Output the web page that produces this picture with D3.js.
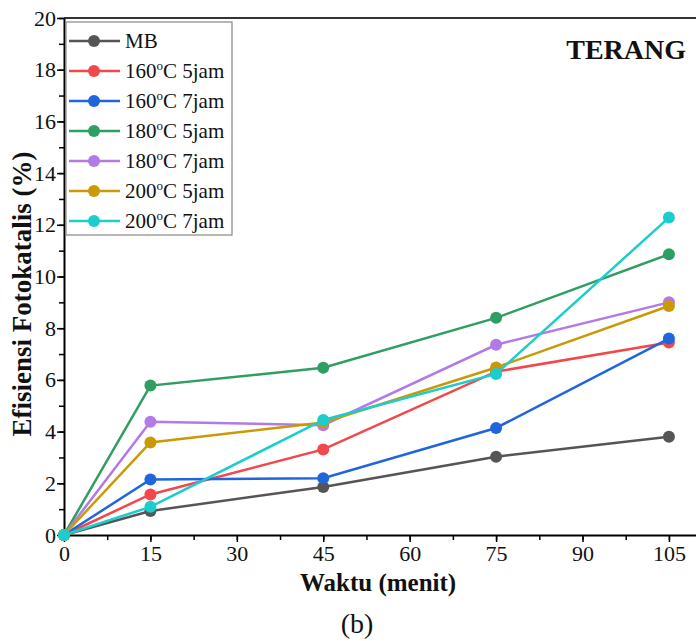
<!DOCTYPE html>
<html>
<head>
<meta charset="utf-8">
<script src="https://cdn.jsdelivr.net/npm/d3@7"></script>
<style>
  body { margin: 0; background: #fff; }
  svg { display: block; }
  svg text { font-family: "Liberation Serif", "Times New Roman", Times, serif !important; fill: #111; }
</style>
</head>
<body>
<svg id="chart" width="696" height="641"></svg>
<script>
// data
const times = [0, 15, 45, 75, 105];
const seriesNames = ["MB", "160C5", "160C7", "180C5", "180C7", "200C5", "200C7"];
const seriesLabels = [["MB", "", ""], ["160", "o", "C 5jam"], ["160", "o", "C 7jam"], ["180", "o", "C 5jam"],
                      ["180", "o", "C 7jam"], ["200", "o", "C 5jam"], ["200", "o", "C 7jam"]];
const mb      = [0, 0.93, 1.86, 3.03, 3.80];
const t160j5  = [0, 1.57, 3.31, 6.32, 7.45];
const t160j7  = [0, 2.15, 2.20, 4.14, 7.60];
const t180j5  = [0, 5.78, 6.47, 8.40, 10.86];
const t180j7  = [0, 4.38, 4.25, 7.36, 9.00];
const t200j5  = [0, 3.58, 4.35, 6.48, 8.86];
const t200j7  = [0, 1.09, 4.45, 6.23, 12.28];
const seriesValues = [mb, t160j5, t160j7, t180j5, t180j7, t200j5, t200j7];
const colors = ["#555555", "#f2474b", "#1f66dc", "#2f9e62", "#b27ae6", "#c99a06", "#1ccdcd"];
const xTicks = [0, 15, 30, 45, 60, 75, 90, 105];
const yTicks = [0, 2, 4, 6, 8, 10, 12, 14, 16, 18, 20];

const svg = d3.select("#chart");
const plotLeft = 64, plotRight = 696, plotTop = 18, plotBottom = 535;

// x axis runs past the right edge of the picture (cropped figure)
const x = d3.scaleLinear().domain([0, 109.7]).range([plotLeft, plotRight]);
const y = d3.scaleLinear().domain([0, 20]).range([plotBottom, plotTop]);

// top frame line
svg.append("line")
    .attr("x1", plotLeft).attr("x2", plotRight)
    .attr("y1", y(20)).attr("y2", y(20))
    .attr("stroke", "#333").attr("stroke-width", 2);

// minor ticks
svg.append("g")
    .attr("transform", `translate(0,${plotBottom})`)
    .call(d3.axisBottom(x).tickValues(d3.range(0, 109, 7.5)).tickSize(5).tickFormat("").tickSizeOuter(0))
    .call(g => g.select(".domain").remove())
    .call(g => g.selectAll("line").attr("stroke-width", 1.5));
svg.append("g")
    .attr("transform", `translate(${plotLeft},0)`)
    .call(d3.axisLeft(y).tickValues(d3.range(0, 21, 1)).tickSize(5).tickFormat("").tickSizeOuter(0))
    .call(g => g.select(".domain").remove())
    .call(g => g.selectAll("line").attr("stroke-width", 1.5));

// major axes
svg.append("g")
    .attr("transform", `translate(0,${plotBottom})`)
    .call(d3.axisBottom(x).tickValues(xTicks).tickSize(7).tickSizeOuter(0).tickPadding(3))
    .call(g => g.select(".domain").attr("stroke-width", 2))
    .call(g => g.selectAll("line").attr("stroke-width", 1.5))
    .call(g => g.selectAll("text").style("font-size", "22px"));

svg.append("g")
    .attr("transform", `translate(${plotLeft},0)`)
    .call(d3.axisLeft(y).tickValues(yTicks).tickSize(7).tickSizeOuter(0).tickPadding(1))
    .call(g => g.select(".domain").attr("stroke-width", 2))
    .call(g => g.selectAll("line").attr("stroke-width", 1.5))
    .call(g => g.selectAll("text").style("font-size", "22px"));

// lines and markers
const line = d3.line().x((d, i) => x(times[i])).y(d => y(d));
seriesValues.forEach((vals, s) => {
  const g = svg.append("g").attr("class", "series-" + seriesNames[s]);
  g.append("path")
    .datum(vals)
    .attr("d", line)
    .attr("fill", "none")
    .attr("stroke", colors[s])
    .attr("stroke-width", 2.5);
  g.selectAll("circle")
    .data(vals)
    .enter()
    .append("circle")
    .attr("cx", (d, i) => x(times[i]))
    .attr("cy", d => y(d))
    .attr("r", 6)
    .attr("fill", colors[s]);
});

// legend
const legend = svg.append("g").attr("transform", "translate(66,22)");
legend.append("rect")
    .attr("width", 166).attr("height", 213)
    .attr("fill", "#fff").attr("stroke", "#888").attr("stroke-width", 1.2);
seriesNames.forEach((name, i) => {
  const ry = 19 + i * 30;
  legend.append("line")
      .attr("x1", 3).attr("x2", 54).attr("y1", ry).attr("y2", ry)
      .attr("stroke", colors[i]).attr("stroke-width", 2.5);
  legend.append("circle")
      .attr("cx", 28).attr("cy", ry).attr("r", 6).attr("fill", colors[i]);
  const t = legend.append("text")
      .attr("x", 59).attr("y", ry + 7)
      .style("font-size", "21px");
  const parts = seriesLabels[i];
  t.append("tspan").text(parts[0]);
  if (parts[1]) {
    t.append("tspan").style("font-size", "13px").attr("dy", -8).text(parts[1]);
    t.append("tspan").attr("dy", 8).text(parts[2]);
  }
});

// annotation
svg.append("text")
    .attr("x", 686).attr("y", 59)
    .attr("text-anchor", "end")
    .style("font-size", "28px").style("font-weight", "bold")
    .text("TERANG");

// axis titles
svg.append("text")
    .attr("x", 378).attr("y", 591)
    .attr("text-anchor", "middle")
    .style("font-size", "25px").style("font-weight", "bold")
    .text("Waktu (menit)");

svg.append("text")
    .attr("transform", "translate(31,294) rotate(-90)")
    .attr("text-anchor", "middle")
    .style("font-size", "27px").style("font-weight", "bold")
    .text("Efisiensi Fotokatalis (%)");

svg.append("text")
    .attr("x", 357).attr("y", 633)
    .attr("text-anchor", "middle")
    .style("font-size", "28px")
    .text("(b)");
</script>
</body>
</html>
